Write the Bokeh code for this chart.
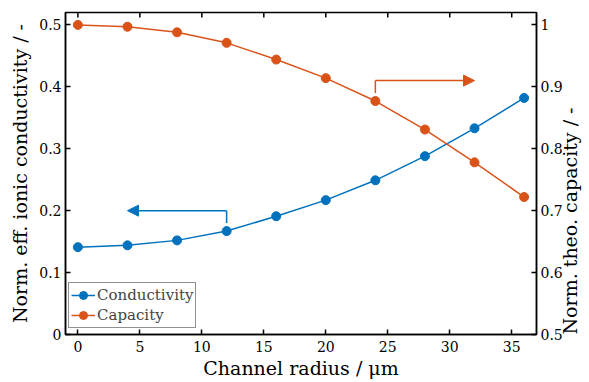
import math
from bokeh.plotting import figure
from bokeh.models import (Range1d, LinearAxis, FixedTicker, Legend, LegendItem,
                          Arrow, NormalHead)
from bokeh.embed import file_html
from bokeh.resources import INLINE

radius = [0, 4, 8, 12, 16, 20, 24, 28, 32, 36]
conductivity = [0.141, 0.144, 0.152, 0.167, 0.191, 0.217, 0.249, 0.288, 0.333, 0.382]
capacity = [1.000, 0.997, 0.988, 0.971, 0.944, 0.914, 0.877, 0.831, 0.778, 0.722]

x_ticks = [0, 5, 10, 15, 20, 25, 30, 35]
left_ticks = [0, 0.1, 0.2, 0.3, 0.4, 0.5]
right_ticks = [0.5, 0.6, 0.7, 0.8, 0.9, 1.0]

# arrow paths (x, y) in data units
blue_arrow_x = [12, 12, 4]
blue_arrow_y = [0.18, 0.2, 0.2]
orange_arrow_x = [24, 24, 32]
orange_arrow_y = [0.89, 0.91, 0.91]

BLUE = "#0072BD"
ORANGE = "#D95319"
FONT = "DejaVu Serif"
Y_TOP = 0.52

p = figure(frame_width=471, frame_height=322, output_backend="svg",
           toolbar_location=None,
           x_range=Range1d(-1, 37), y_range=Range1d(0, Y_TOP),
           min_border_left=65, min_border_right=53, min_border_top=12,
           min_border_bottom=48)
p.extra_y_ranges = {"cap": Range1d(0.5, 1.02)}
p.xgrid.visible = False
p.ygrid.visible = False
p.outline_line_color = "black"
p.outline_line_width = 1.5
p.background_fill_color = "white"
p.border_fill_color = "white"


def style(ax, ticks):
    ax.ticker = FixedTicker(ticks=ticks)
    ax.major_tick_in = 5
    ax.major_tick_out = 0
    ax.minor_tick_line_color = None
    ax.axis_line_width = 1.5
    ax.axis_line_color = "black"
    ax.major_tick_line_width = 1.5
    ax.major_tick_line_color = "black"
    ax.major_label_text_font = FONT
    ax.major_label_text_font_size = "14px"
    ax.major_label_text_color = "black"
    ax.axis_label_text_font = FONT
    ax.axis_label_text_font_size = "19px"
    ax.axis_label_text_font_style = "normal"
    ax.axis_label_text_color = "black"


xa = p.xaxis[0]
style(xa, x_ticks)
xa.axis_label = "Channel radius / μm"
xa.major_label_standoff = 6
xa.axis_label_standoff = 2

ya = p.yaxis[0]
style(ya, left_ticks)
ya.axis_label = "Norm. eff. ionic conductivity / -"
ya.major_label_standoff = 4
ya.axis_label_standoff = 5
ya.major_label_overrides = {0: "0"}

ra = LinearAxis(y_range_name="cap")
style(ra, right_ticks)
ra.major_label_standoff = 4
ra.major_label_overrides = {1: "1"}
p.add_layout(ra, "right")

# second right axis carrying only the title, reading bottom-to-top
rt = LinearAxis(y_range_name="cap", bounds=(0.56, 1.02))
style(rt, [])
rt.axis_line_color = None
rt.major_tick_line_color = None
rt.major_label_text_font_size = "0px"
rt.major_label_standoff = 0
rt.axis_label = "Norm. theo. capacity / -"
rt.axis_label_standoff = 4
try:
    rt.axis_label_orientation = math.pi / 2
except Exception:
    pass
try:
    rt.axis_label_align = "start"
except Exception:
    pass
p.add_layout(rt, "right")

# inward ticks along the top edge
tick_len = Y_TOP * 5 / 322
p.segment(x0=x_ticks, y0=[Y_TOP] * len(x_ticks), x1=x_ticks,
          y1=[Y_TOP - tick_len] * len(x_ticks), line_color="black", line_width=1.5)

# arrows
p.line(blue_arrow_x[:2], blue_arrow_y[:2], line_color=BLUE, line_width=1.5)
p.add_layout(Arrow(end=NormalHead(size=11, fill_color=BLUE, line_color=BLUE),
                   x_start=blue_arrow_x[1], y_start=blue_arrow_y[1],
                   x_end=blue_arrow_x[2], y_end=blue_arrow_y[2],
                   line_color=BLUE, line_width=1.5))
p.line(orange_arrow_x[:2], orange_arrow_y[:2], line_color=ORANGE, line_width=1.5,
       y_range_name="cap")
p.add_layout(Arrow(end=NormalHead(size=11, fill_color=ORANGE, line_color=ORANGE),
                   x_start=orange_arrow_x[1], y_start=orange_arrow_y[1],
                   x_end=orange_arrow_x[2], y_end=orange_arrow_y[2],
                   line_color=ORANGE, line_width=1.5, y_range_name="cap"))

l1 = p.line(radius, conductivity, line_color=BLUE, line_width=1.5)
s1 = p.scatter(radius, conductivity, size=9, fill_color=BLUE, line_color=BLUE)
l2 = p.line(radius, capacity, line_color=ORANGE, line_width=1.5, y_range_name="cap")
s2 = p.scatter(radius, capacity, size=9, fill_color=ORANGE, line_color=ORANGE,
               y_range_name="cap")

legend = Legend(items=[LegendItem(label="Conductivity", renderers=[l1, s1]),
                       LegendItem(label="Capacity", renderers=[l2, s2])],
                location=(3, 6))
legend.label_text_font = FONT
legend.label_text_font_size = "15px"
legend.border_line_color = "#262626"
legend.border_line_width = 1.5
legend.background_fill_alpha = 1
legend.padding = 2
legend.spacing = 0
legend.margin = 0
legend.glyph_width = 24
legend.glyph_height = 20
legend.label_standoff = 2
legend.label_height = 20
p.add_layout(legend, "center")

open("out.html", "w").write(file_html(p, INLINE))
